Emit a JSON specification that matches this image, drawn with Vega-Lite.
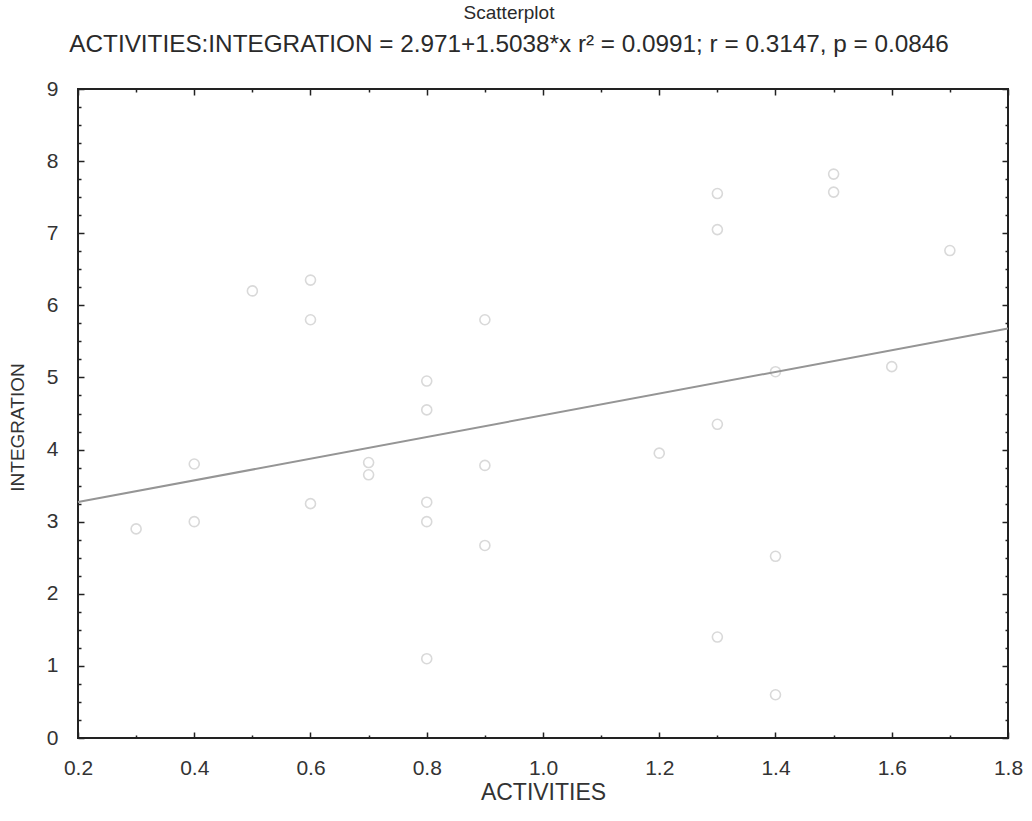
{
  "$schema": "https://vega.github.io/schema/vega-lite/v6.json",
  "autosize": {"type": "none"},
  "width": 930,
  "height": 649,
  "padding": {"left": 78, "top": 89, "right": 24, "bottom": 83},
  "background": "white",
  "title": {
    "text": "Scatterplot",
    "subtitle": "ACTIVITIES:INTEGRATION = 2.971+1.5038*x r² = 0.0991; r = 0.3147, p = 0.0846",
    "anchor": "middle",
    "dx": -34,
    "offset": 21,
    "font": "Liberation Sans",
    "fontSize": 19,
    "fontWeight": "normal",
    "color": "#2a2a2a",
    "subtitleFont": "Liberation Sans",
    "subtitleFontSize": 24.3,
    "subtitleColor": "#2a2a2a",
    "subtitlePadding": 10
  },
  "config": {
    "view": {"stroke": "#222222", "strokeWidth": 2},
    "axis": {
      "domain": false,
      "grid": false,
      "tickColor": "#222222",
      "tickWidth": 1.5,
      "labelFont": "Liberation Sans",
      "labelFontSize": 21,
      "labelColor": "#333333",
      "titleFont": "Liberation Sans",
      "titleFontWeight": "normal",
      "titleColor": "#333333"
    }
  },
  "datasets": {
    "points": [
      {"ACTIVITIES": 0.3, "INTEGRATION": 2.9},
      {"ACTIVITIES": 0.4, "INTEGRATION": 3.8},
      {"ACTIVITIES": 0.4, "INTEGRATION": 3.0},
      {"ACTIVITIES": 0.5, "INTEGRATION": 6.2},
      {"ACTIVITIES": 0.6, "INTEGRATION": 6.35},
      {"ACTIVITIES": 0.6, "INTEGRATION": 5.8},
      {"ACTIVITIES": 0.6, "INTEGRATION": 3.25},
      {"ACTIVITIES": 0.7, "INTEGRATION": 3.82},
      {"ACTIVITIES": 0.7, "INTEGRATION": 3.65},
      {"ACTIVITIES": 0.8, "INTEGRATION": 4.95},
      {"ACTIVITIES": 0.8, "INTEGRATION": 4.55},
      {"ACTIVITIES": 0.8, "INTEGRATION": 3.27},
      {"ACTIVITIES": 0.8, "INTEGRATION": 3.0},
      {"ACTIVITIES": 0.8, "INTEGRATION": 1.1},
      {"ACTIVITIES": 0.9, "INTEGRATION": 5.8},
      {"ACTIVITIES": 0.9, "INTEGRATION": 3.78},
      {"ACTIVITIES": 0.9, "INTEGRATION": 2.67},
      {"ACTIVITIES": 1.2, "INTEGRATION": 3.95},
      {"ACTIVITIES": 1.3, "INTEGRATION": 7.55},
      {"ACTIVITIES": 1.3, "INTEGRATION": 7.05},
      {"ACTIVITIES": 1.3, "INTEGRATION": 4.35},
      {"ACTIVITIES": 1.3, "INTEGRATION": 1.4},
      {"ACTIVITIES": 1.4, "INTEGRATION": 5.08},
      {"ACTIVITIES": 1.4, "INTEGRATION": 2.52},
      {"ACTIVITIES": 1.4, "INTEGRATION": 0.6},
      {"ACTIVITIES": 1.5, "INTEGRATION": 7.82},
      {"ACTIVITIES": 1.5, "INTEGRATION": 7.57},
      {"ACTIVITIES": 1.6, "INTEGRATION": 5.15},
      {"ACTIVITIES": 1.7, "INTEGRATION": 6.76}
    ],
    "fit": [
      {"ACTIVITIES": 0.2, "INTEGRATION": 3.2718},
      {"ACTIVITIES": 1.8, "INTEGRATION": 5.6778}
    ]
  },
  "layer": [
    {
      "data": {"name": "points"},
      "mark": {"type": "point", "shape": "circle", "filled": false, "size": 100, "stroke": "#d9d9d9", "strokeWidth": 1.6, "opacity": 1},
      "encoding": {
        "x": {
          "field": "ACTIVITIES", "type": "quantitative",
          "scale": {"domain": [0.2, 1.8], "nice": false, "zero": false},
          "axis": {
            "orient": "bottom",
            "title": "ACTIVITIES",
            "titleFontSize": 23,
            "titlePadding": 0,
            "values": [0.2, 0.3, 0.4, 0.5, 0.6, 0.7, 0.8, 0.9, 1.0, 1.1, 1.2, 1.3, 1.4, 1.5, 1.6, 1.7, 1.8],
            "labelExpr": "round(datum.value * 10) % 2 == 0 ? format(datum.value, '.1f') : ''",
            "labelFlush": false,
            "labelOverlap": false,
            "tickSize": {"condition": {"test": "round(datum.value * 10) % 2 == 0", "value": -6}, "value": -3},
            "labelPadding": 25
          }
        },
        "y": {
          "field": "INTEGRATION", "type": "quantitative",
          "scale": {"domain": [0, 9], "nice": false, "zero": false},
          "axis": {
            "orient": "left",
            "title": "INTEGRATION",
            "titleFontSize": 19,
            "titlePadding": 19,
            "titleY": 338,
            "values": [0, 0.25, 0.5, 0.75, 1, 1.25, 1.5, 1.75, 2, 2.25, 2.5, 2.75, 3, 3.25, 3.5, 3.75, 4, 4.25, 4.5, 4.75, 5, 5.25, 5.5, 5.75, 6, 6.25, 6.5, 6.75, 7, 7.25, 7.5, 7.75, 8, 8.25, 8.5, 8.75, 9],
            "labelExpr": "datum.value % 1 == 0 ? format(datum.value, 'd') : ''",
            "labelFlush": false,
            "labelOverlap": false,
            "tickSize": {"condition": {"test": "datum.value % 1 == 0", "value": -6}, "value": -3},
            "labelPadding": 26
          }
        }
      }
    },
    {
      "data": {"name": "fit"},
      "mark": {"type": "line", "stroke": "#959595", "strokeWidth": 2},
      "encoding": {
        "x": {
          "field": "ACTIVITIES", "type": "quantitative",
          "axis": {
            "orient": "top",
            "title": null,
            "labels": false,
            "values": [0.2, 0.3, 0.4, 0.5, 0.6, 0.7, 0.8, 0.9, 1.0, 1.1, 1.2, 1.3, 1.4, 1.5, 1.6, 1.7, 1.8],
            "tickSize": {"condition": {"test": "round(datum.value * 10) % 2 == 0", "value": -6}, "value": -3}
          }
        },
        "y": {
          "field": "INTEGRATION", "type": "quantitative",
          "axis": {
            "orient": "right",
            "title": null,
            "labels": false,
            "values": [0, 0.25, 0.5, 0.75, 1, 1.25, 1.5, 1.75, 2, 2.25, 2.5, 2.75, 3, 3.25, 3.5, 3.75, 4, 4.25, 4.5, 4.75, 5, 5.25, 5.5, 5.75, 6, 6.25, 6.5, 6.75, 7, 7.25, 7.5, 7.75, 8, 8.25, 8.5, 8.75, 9],
            "tickSize": {"condition": {"test": "datum.value % 1 == 0", "value": -6}, "value": -3}
          }
        }
      }
    }
  ],
  "resolve": {"axis": {"x": "independent", "y": "independent"}}
}
